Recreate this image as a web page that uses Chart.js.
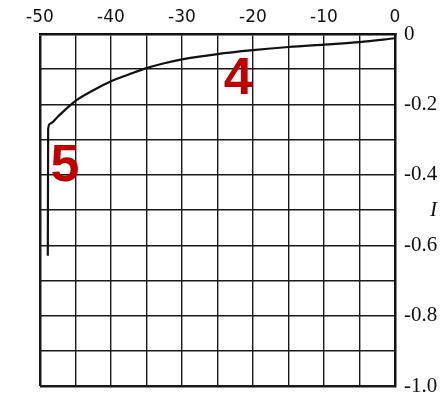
<!DOCTYPE html>
<html>
<head>
<meta charset="utf-8">
<script src="https://cdn.jsdelivr.net/npm/chart.js@4.4.1/dist/chart.umd.min.js"></script>
<style>
  html, body { margin: 0; padding: 0; background: #fff; }
  #wrap { width: 443px; height: 397px; }
</style>
</head>
<body>
<div id="wrap"><canvas id="c" width="443" height="397"></canvas></div>
<script>
// Curve: potential (x) against current I (y)
const potential = [-48.9, -48.85, -48.6, -47.5, -46, -45, -42.5, -40, -37.5, -35, -32.5, -30, -25, -20, -15, -10, -5, 0];
const current   = [-0.63, -0.27, -0.255, -0.235, -0.207, -0.19, -0.16, -0.134, -0.115, -0.097, -0.083, -0.072, -0.057, -0.046, -0.037, -0.030, -0.023, -0.012];

// Axis ranges and labelled ticks
const xRange = [-50, 0];
const yRange = [-1.0, 0];
const xLabelled = [-50, -40, -30, -20, -10, 0];
const yLabelled = ['0', '-0.2', '-0.4', '-0.6', '-0.8', '-1.0'];

// Curve annotations
const curveLabels = [
  { text: '4', x: -22.1, y: -0.125 },
  { text: '5', x: -46.5, y: -0.372 }
];
const axisName = { text: 'I', y: -0.5 };

const points = potential.map((x, i) => ({ x, y: current[i] }));

const annotate = {
  id: 'annotate',
  afterDatasetsDraw(chart) {
    const { ctx, scales } = chart;
    ctx.save();
    ctx.fillStyle = '#c00000';
    ctx.font = 'bold 52px "Liberation Sans", Arial, sans-serif';
    ctx.textAlign = 'center';
    ctx.textBaseline = 'middle';
    curveLabels.forEach(l => {
      ctx.fillText(l.text, scales.x.getPixelForValue(l.x), scales.y.getPixelForValue(l.y) + 2);
    });
    ctx.fillStyle = '#111';
    ctx.font = 'italic 21px "Liberation Serif", "Times New Roman", serif';
    ctx.textAlign = 'left';
    ctx.fillText(axisName.text, chart.chartArea.right + 35, scales.y.getPixelForValue(axisName.y));
    ctx.restore();
  }
};

const edgeWidth = (ctx, lo) => (ctx.tick && Math.abs(ctx.tick.value - lo) < 1e-9 ? 2.5 : 1.4);

new Chart(document.getElementById('c'), {
  type: 'scatter',
  data: {
    datasets: [{
      data: points,
      showLine: true,
      borderColor: '#111',
      borderWidth: 2.2,
      pointRadius: 0,
      cubicInterpolationMode: 'monotone',
      fill: false
    }]
  },
  options: {
    responsive: false,
    animation: false,
    devicePixelRatio: 1,
    layout: { padding: { left: 40, top: 0, right: 0, bottom: 11 } },
    plugins: { legend: { display: false }, tooltip: { enabled: false } },
    scales: {
      x: {
        type: 'linear',
        position: 'top',
        min: xRange[0],
        max: xRange[1],
        afterFit(s) { s.height = 34; s.paddingLeft = 0; s.paddingRight = 0; },
        ticks: {
          stepSize: 5,
          padding: 6,
          color: '#111',
          font: { family: '"DejaVu Sans", Verdana, sans-serif', size: 17 },
          callback: v => (xLabelled.includes(Math.round(v)) ? String(Math.round(v)) : '')
        },
        grid: {
          drawTicks: false,
          color: '#1a1a1a',
          lineWidth: ctx => edgeWidth(ctx, xRange[0])
        },
        border: { display: true, color: '#111', width: 2.5 }
      },
      y: {
        type: 'linear',
        position: 'right',
        min: yRange[0],
        max: yRange[1],
        afterFit(s) { s.width = 48; s.paddingTop = 0; s.paddingBottom = 0; },
        ticks: {
          stepSize: 0.1,
          padding: 9,
          color: '#111',
          font: { family: '"Liberation Serif", "Times New Roman", serif', size: 21 },
          callback: v => {
            const k = Math.round(v * 10);
            if (k % 2 !== 0) return '';
            return yLabelled[-k / 2];
          }
        },
        grid: {
          drawTicks: false,
          color: '#1a1a1a',
          lineWidth: ctx => edgeWidth(ctx, yRange[0])
        },
        border: { display: true, color: '#111', width: 2.5 }
      }
    }
  },
  plugins: [annotate]
});
</script>
</body>
</html>
